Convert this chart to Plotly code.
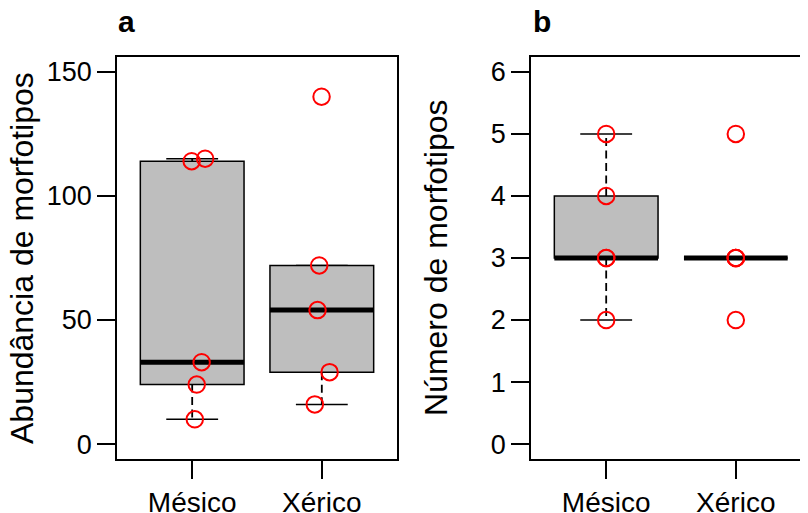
import numpy as np
import plotly.graph_objects as go

# ---------------- data ----------------
groups = ["Mésico", "Xérico"]
abund_mesico = [114, 115, 33, 24, 10]
abund_xerico = [140, 72, 54, 29, 16]
abund_jit_mesico = [-0.004, 0.10, 0.073, 0.035, 0.02]
abund_jit_xerico = [-0.002, -0.02, -0.033, 0.06, -0.054]
num_mesico = [5, 4, 3, 3, 2]
num_xerico = [5, 3, 3, 3, 2]
num_jit_mesico = [0, 0, 0, 0, 0]
num_jit_xerico = [0, 0, 0, 0, 0]
abund_ticks = [0, 50, 100, 150]
num_ticks = [0, 1, 2, 3, 4, 5, 6]

# the page body has an 8px margin, so the figure is drawn 8px smaller
OFF = 8
W, H = 808 - OFF, 513 - OFF
FONT = "Liberation Sans, Arial, Helvetica, sans-serif"
LW = 1.5


def fivenum(v):
    x = np.sort(np.asarray(v, dtype=float))
    n = len(x)
    n4 = np.floor((n + 3) / 2) / 2
    d = np.array([1, n4, (n + 1) / 2, n + 1 - n4, n])
    return 0.5 * (x[np.floor(d).astype(int) - 1] + x[np.ceil(d).astype(int) - 1])


def box_shapes(vals, pos, xref, yref):
    f = fivenum(vals)
    q1, med, q3 = f[1], f[2], f[3]
    iqr = q3 - q1
    arr = np.asarray(vals, dtype=float)
    lo = arr[arr >= q1 - 1.5 * iqr].min()
    hi = arr[arr <= q3 + 1.5 * iqr].max()
    hw, sw = 0.4, 0.2
    common = dict(xref=xref, yref=yref, layer="below")
    dash = dict(color="black", width=1.8, dash="8px,4.5px")
    shp = []
    shp.append(dict(type="line", x0=pos, x1=pos, y0=q1, y1=lo, line=dash, **common))
    shp.append(dict(type="line", x0=pos, x1=pos, y0=q3, y1=hi, line=dash, **common))
    shp.append(dict(type="line", x0=pos - sw, x1=pos + sw, y0=lo, y1=lo,
                    line=dict(color="black", width=LW), **common))
    shp.append(dict(type="line", x0=pos - sw, x1=pos + sw, y0=hi, y1=hi,
                    line=dict(color="black", width=LW), **common))
    shp.append(dict(type="rect", x0=pos - hw, x1=pos + hw, y0=q1, y1=q3,
                    fillcolor="#BEBEBE", line=dict(color="black", width=LW), **common))
    shp.append(dict(type="line", x0=pos - hw, x1=pos + hw, y0=med, y1=med,
                    line=dict(color="black", width=5), **common))
    return shp


fig = go.Figure()

panels = [
    ("x", "y", [abund_mesico, abund_xerico], [abund_jit_mesico, abund_jit_xerico]),
    ("x2", "y2", [num_mesico, num_xerico], [num_jit_mesico, num_jit_xerico]),
]
shapes = []
for xr, yr, data, jits in panels:
    for i, (vals, jit) in enumerate(zip(data, jits)):
        pos = i + 1
        shapes += box_shapes(vals, pos, xr, yr)
        fig.add_trace(go.Scatter(
            x=[pos + j for j in jit], y=vals, xaxis=xr, yaxis=yr,
            mode="markers", showlegend=False, hoverinfo="skip",
            marker=dict(symbol="circle-open", size=16.5, color="#FF0000",
                        line=dict(width=2, color="#FF0000"))))

px_per_unit = 280 / 2.16
ax_common = dict(showline=True, linecolor="black", linewidth=LW, showgrid=False,
                 zeroline=False, ticks="outside", ticklen=18, tickwidth=LW,
                 tickcolor="black", automargin=False)
yfont = dict(family=FONT, size=27, color="black")
xfont = dict(family=FONT, size=28, color="black")


def px(p):
    return (p - OFF) / W


def py(p):
    return 1 - (p - OFF) / H


fig.update_layout(
    width=W, height=H,
    margin=dict(l=0, r=0, t=0, b=0, pad=0, autoexpand=False),
    paper_bgcolor="white", plot_bgcolor="white",
    showlegend=False,
    shapes=shapes,
    xaxis=dict(domain=[px(117), px(397)], range=[0.42, 2.58], tickvals=[1, 2],
               ticktext=groups, mirror=True, anchor="y", tickfont=xfont, **ax_common),
    yaxis=dict(domain=[py(459), py(57)], range=[-6, 156], tickvals=abund_ticks,
               mirror=True, anchor="x", tickfont=yfont, **ax_common),
    xaxis2=dict(domain=[px(531), 1.0], range=[0.42, 0.42 + (808 - 531) / px_per_unit],
                tickvals=[1, 2], ticktext=groups, mirror=True, anchor="y2",
                tickfont=xfont, **ax_common),
    yaxis2=dict(domain=[py(459), py(57)], range=[-0.24, 6.24], tickvals=num_ticks,
                mirror=False, anchor="x2", tickfont=yfont, **ax_common),
    annotations=[
        dict(text="Abundância de morfotipos", x=px(22), y=py(258), xref="paper", yref="paper",
             textangle=-90, showarrow=False, xanchor="center", yanchor="middle",
             font=dict(family=FONT, size=32, color="black")),
        dict(text="Número de morfotipos", x=px(436), y=py(258), xref="paper", yref="paper",
             textangle=-90, showarrow=False, xanchor="center", yanchor="middle",
             font=dict(family=FONT, size=32, color="black")),
        dict(text="<b>a</b>", x=px(116), y=py(21), xref="paper", yref="paper",
             showarrow=False, xanchor="left", yanchor="middle",
             font=dict(family=FONT, size=30, color="black")),
        dict(text="<b>b</b>", x=px(531), y=py(21), xref="paper", yref="paper",
             showarrow=False, xanchor="left", yanchor="middle",
             font=dict(family=FONT, size=30, color="black")),
    ],
)

fig.write_html("out.html")
